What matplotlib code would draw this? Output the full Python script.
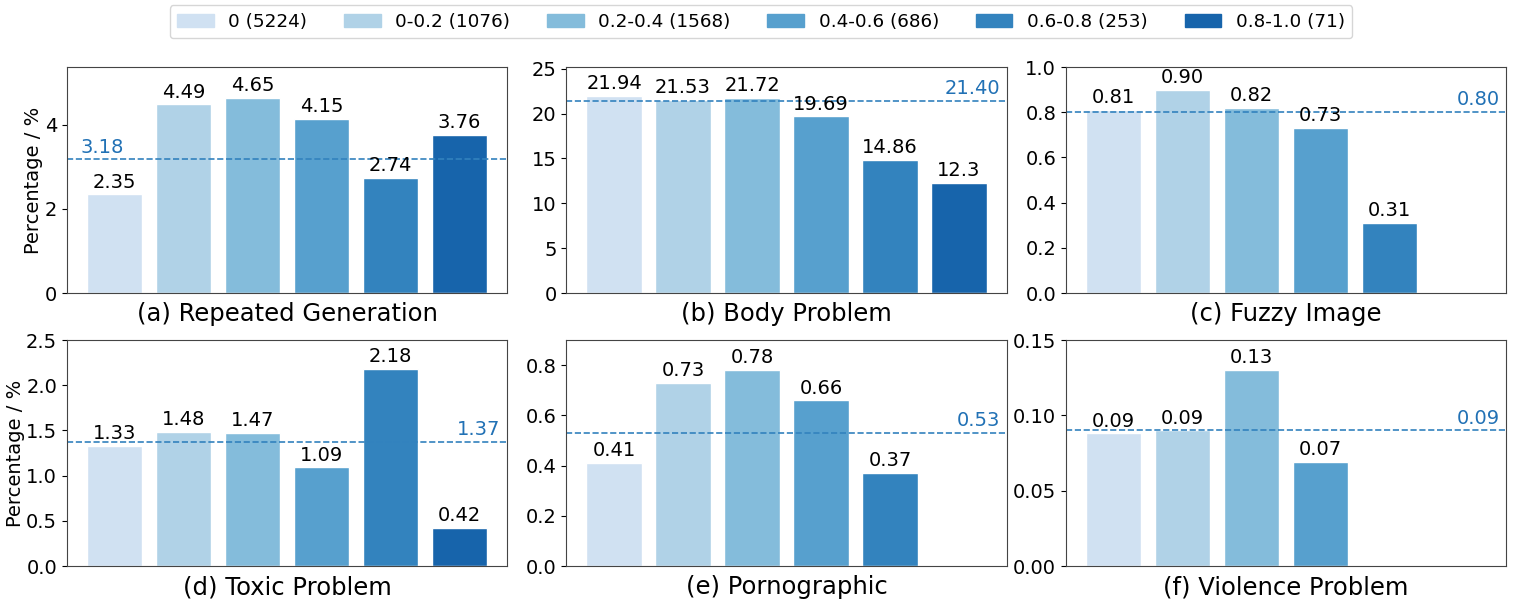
import numpy as np
import matplotlib
matplotlib.use("Agg")
import matplotlib.pyplot as plt
from matplotlib.ticker import MultipleLocator
from matplotlib.transforms import blended_transform_factory

# legend entries: score bucket (sample count)
groups = ['0 (5224)', '0-0.2 (1076)', '0.2-0.4 (1568)', '0.4-0.6 (686)',
          '0.6-0.8 (253)', '0.8-1.0 (71)']

titles = ['(a) Repeated Generation', '(b) Body Problem', '(c) Fuzzy Image',
          '(d) Toxic Problem', '(e) Pornographic', '(f) Violence Problem']

# percentage per bucket, one list per panel
repeated = [2.35, 4.49, 4.65, 4.15, 2.74, 3.76]
body = [21.94, 21.53, 21.72, 19.69, 14.86, 12.3]
fuzzy = [0.81, 0.90, 0.82, 0.73, 0.31]
toxic = [1.33, 1.48, 1.47, 1.09, 2.18, 0.42]
porn = [0.41, 0.73, 0.78, 0.66, 0.37]
violence = [0.088, 0.090, 0.13, 0.069]

repeated_lbl = ['2.35', '4.49', '4.65', '4.15', '2.74', '3.76']
body_lbl = ['21.94', '21.53', '21.72', '19.69', '14.86', '12.3']
fuzzy_lbl = ['0.81', '0.90', '0.82', '0.73', '0.31']
toxic_lbl = ['1.33', '1.48', '1.47', '1.09', '2.18', '0.42']
porn_lbl = ['0.41', '0.73', '0.78', '0.66', '0.37']
violence_lbl = ['0.09', '0.09', '0.13', '0.07']

# overall average per panel (dashed line)
averages = [3.18, 21.40, 0.80, 1.37, 0.53, 0.09]
avg_labels = ['3.18', '21.40', '0.80', '1.37', '0.53', '0.09']

all_values = [repeated, body, fuzzy, toxic, porn, violence]
all_labels = [repeated_lbl, body_lbl, fuzzy_lbl, toxic_lbl, porn_lbl, violence_lbl]

ylims = [5.38, 25.2, 1.0, 2.5, 0.9, 0.15]
ysteps = [2, 5, 0.2, 0.5, 0.2, 0.05]

colors = plt.cm.Blues(np.linspace(0.2, 0.8, 6))
line_color = '#3282be'
text_color = '#2171b5'

fig, axes = plt.subplots(2, 3, figsize=(15.22, 6.07), dpi=100)
fig.subplots_adjust(left=0.044, right=0.9895, top=0.8896, bottom=0.0675,
                    wspace=0.135, hspace=0.208)

for i, ax in enumerate(axes.flat):
    vals = all_values[i]
    x = np.arange(len(vals))
    bars = ax.bar(x, vals, width=0.8, color=colors[:len(vals)],
                  edgecolor='white', linewidth=1)
    ax.bar_label(bars, labels=all_labels[i], padding=2, fontsize=14)

    ax.axhline(averages[i], color=line_color, linestyle='--', linewidth=1.2)
    trans = blended_transform_factory(ax.transAxes, ax.transData)
    if i == 0:
        ax.annotate(avg_labels[i], xy=(0.03, averages[i]), xycoords=trans,
                    xytext=(0, 2), textcoords='offset points',
                    ha='left', va='bottom', color=text_color, fontsize=14)
    else:
        ax.annotate(avg_labels[i], xy=(0.985, averages[i]), xycoords=trans,
                    xytext=(0, 2), textcoords='offset points',
                    ha='right', va='bottom', color=text_color, fontsize=14)

    ax.set_xlim(-0.69, 5.69)
    ax.set_ylim(0, ylims[i])
    ax.yaxis.set_major_locator(MultipleLocator(ysteps[i]))
    ax.set_xticks([])
    ax.tick_params(axis='y', labelsize=14)
    ax.set_xlabel(titles[i], fontsize=17.5, labelpad=6.5)
    for sp in ax.spines.values():
        sp.set_color('#444444')
    if i % 3 == 0:
        ax.set_ylabel('Percentage / %', fontsize=14, labelpad=1)

handles = [plt.Rectangle((0, 0), 1, 1, color=c) for c in colors]
fig.legend(handles, groups, loc='upper center', bbox_to_anchor=(0.5, 1.0),
           ncol=6, fontsize=13.2, borderaxespad=0.3, frameon=True)

plt.savefig('out.png', dpi=100)
